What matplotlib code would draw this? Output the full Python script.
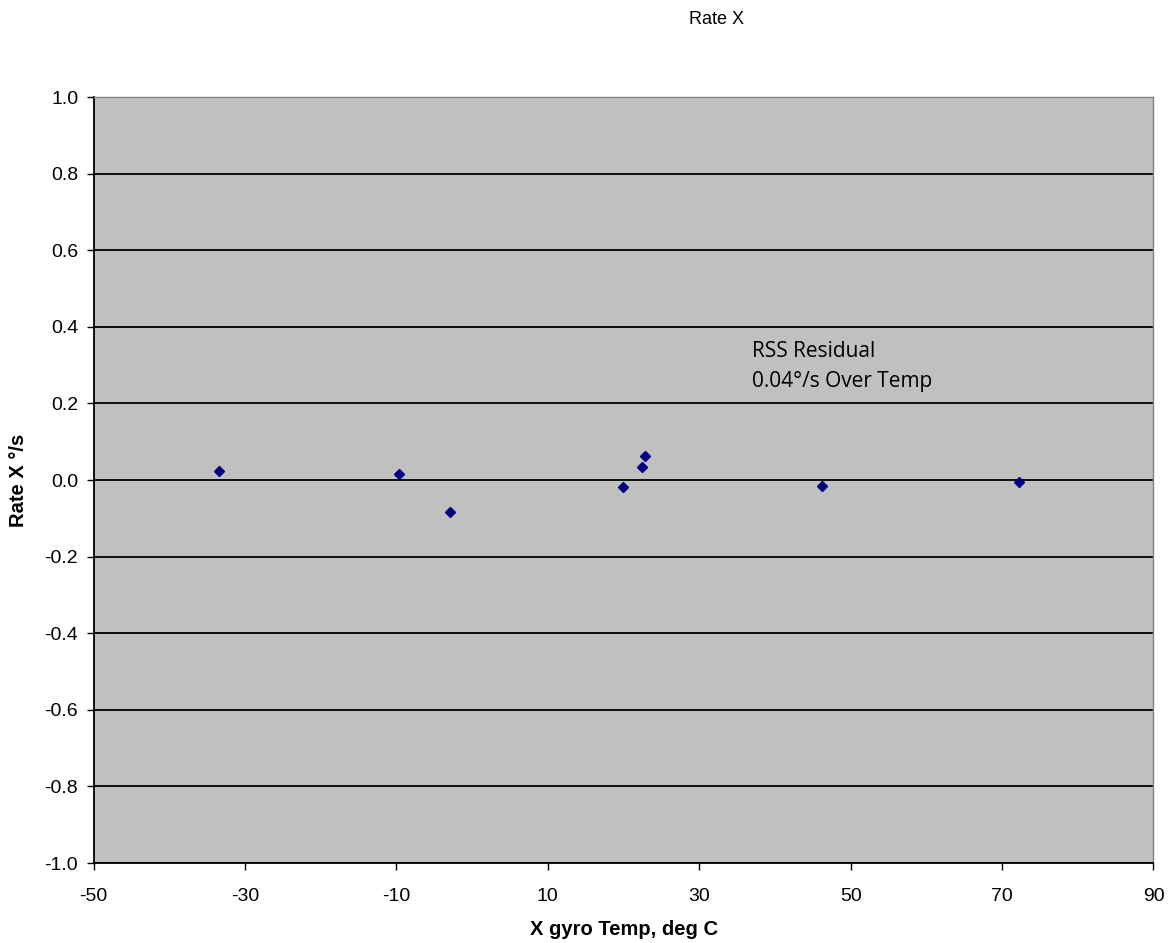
import matplotlib.pyplot as plt
import numpy as np

# gyro temperature (deg C) and residual rate (deg/s)
temp = [-33.4, -9.7, -2.9, 19.9, 22.5, 22.9, 46.2, 72.3]
rate = [0.023, 0.016, -0.083, -0.017, 0.035, 0.063, -0.016, -0.004]

x_ticks = [-50, -30, -10, 10, 30, 50, 70, 90]
y_ticks = [-1.0, -0.8, -0.6, -0.4, -0.2, 0.0, 0.2, 0.4, 0.6, 0.8, 1.0]
y_labels = ['-1.0', '-0.8', '-0.6', '-0.4', '-0.2', '0.0',
            '0.2', '0.4', '0.6', '0.8', '1.0']

plt.rcParams['font.family'] = ['Liberation Sans', 'DejaVu Sans']
plt.rcParams['axes.unicode_minus'] = False

fig = plt.figure(figsize=(11.72, 9.43), dpi=100)
ax = fig.add_axes([0.0798, 0.0848, 0.9044, 0.8123])
ax.set_facecolor('#C0C0C0')

for yv in y_ticks:
    ax.axhline(yv, color='black', linewidth=1.3, zorder=1)

ax.plot(temp, rate, linestyle='none', marker='D', markersize=5,
        color='#000080', zorder=3)

ax.set_xlim(-50, 90)
ax.set_ylim(-1.0, 1.0)
ax.set_xticks(x_ticks)
ax.set_xticklabels([str(v) for v in x_ticks])
ax.set_yticks(y_ticks)
ax.set_yticklabels(y_labels)
ax.tick_params(direction='out', length=5, width=1, labelsize=14)
ax.tick_params(axis='x', pad=13)
ax.tick_params(axis='y', pad=6)

for s in ['left', 'bottom']:
    ax.spines[s].set_color('black')
    ax.spines[s].set_linewidth(1.3)
for s in ['top', 'right']:
    ax.spines[s].set_color('#808080')
    ax.spines[s].set_linewidth(1.0)

ax.set_xlabel('X gyro Temp, deg C', fontsize=14.5, fontweight='bold', labelpad=11)
ax.set_ylabel('Rate X °/s', fontsize=14.5, fontweight='bold', labelpad=12)

fig.text(0.611, 0.979, 'Rate X', fontsize=13, ha='center', va='center')

ax.text(37.0, 0.321, 'RSS Residual', fontsize=15,
        family=['Open Sans', 'DejaVu Sans'], va='baseline', ha='left')
ax.text(37.0, 0.243, '0.04°/s Over Temp', fontsize=15,
        family=['Open Sans', 'DejaVu Sans'], va='baseline', ha='left')

fig.savefig('out.png', dpi=100)
